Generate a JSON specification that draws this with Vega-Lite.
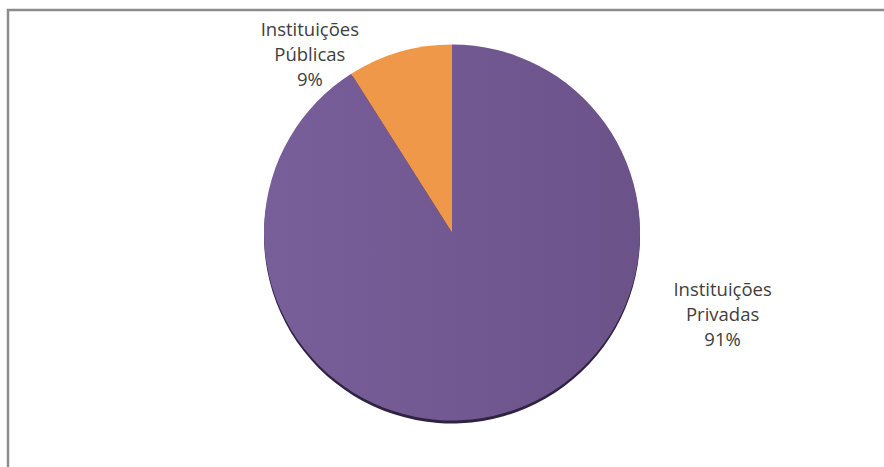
{
  "$schema": "https://vega.github.io/schema/vega-lite/v6.json",
  "width": 884,
  "height": 467,
  "autosize": {"type": "fit", "contains": "padding"},
  "padding": {"left": 6, "top": 8, "right": -6, "bottom": -6},
  "background": "white",
  "config": {
    "view": {"stroke": null},
    "font": "Open Sans"
  },
  "data": {
    "values": [
      {"category": "Instituições Privadas", "value": 91},
      {"category": "Instituições Públicas", "value": 9}
    ]
  },
  "transform": [
    {"calculate": "[split(datum.category, ' ')[0], split(datum.category, ' ')[1], datum.value + '%']", "as": "label"}
  ],
  "layer": [
    {
      "data": {"values": [{"frame": 1}]},
      "mark": {"type": "rect", "fill": null, "stroke": "#8c8c8c", "strokeWidth": 2.5},
      "encoding": {}
    },
    {
      "mark": {"type": "arc", "radius": 188, "xOffset": 4, "yOffset": -5, "color": "#2e2340"},
      "encoding": {
        "theta": {"field": "value", "type": "quantitative", "stack": true},
        "order": {"field": "category", "type": "nominal"}
      }
    },
    {
      "mark": {"type": "arc", "radius": 188, "xOffset": 4, "yOffset": -8},
      "encoding": {
        "theta": {"field": "value", "type": "quantitative", "stack": true},
        "order": {"field": "category", "type": "nominal"},
        "color": {
          "condition": {"test": "datum.category == 'Instituições Públicas'", "value": "#f0984a"},
          "value": {
            "gradient": "linear",
            "x1": 0, "y1": 0.5, "x2": 1, "y2": 0.5,
            "stops": [
              {"offset": 0, "color": "#795f9a"},
              {"offset": 1, "color": "#6b5289"}
            ]
          }
        }
      }
    },
    {
      "transform": [{"filter": "datum.category == 'Instituições Públicas'"}],
      "mark": {"type": "text", "theta": 5.703, "radius": 252, "fontSize": 18.5, "lineHeight": 25, "color": "#404040", "align": "center", "baseline": "middle"},
      "encoding": {"text": {"field": "label"}}
    },
    {
      "transform": [{"filter": "datum.category == 'Instituições Privadas'"}],
      "mark": {"type": "text", "theta": 1.749, "radius": 279, "fontSize": 18.5, "lineHeight": 25, "color": "#404040", "align": "center", "baseline": "middle"},
      "encoding": {"text": {"field": "label"}}
    }
  ]
}
